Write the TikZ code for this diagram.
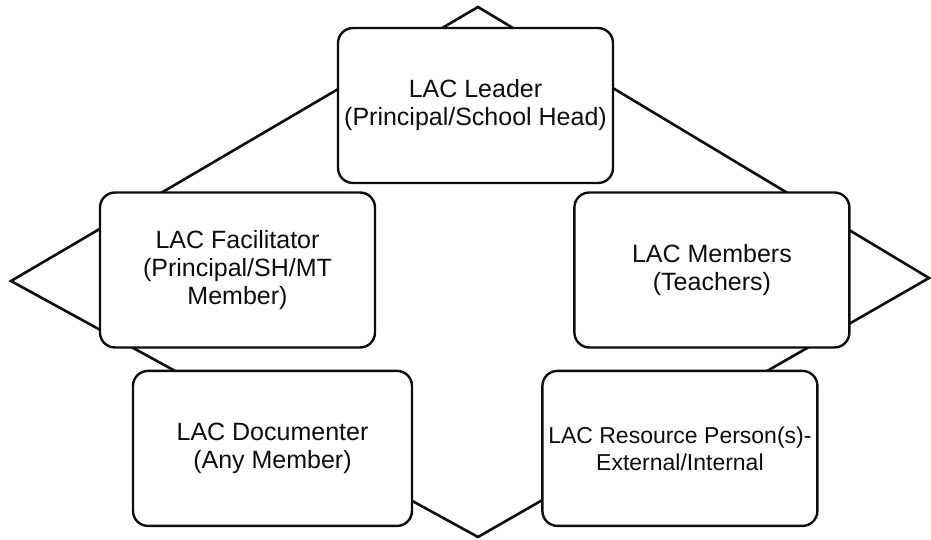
\documentclass[tikz,border=0pt]{standalone}
\usepackage{fontspec}
\setmainfont{Liberation Sans}
\usepackage{tikz}
\usetikzlibrary{positioning}
\usepackage{xcolor}
\definecolor{Ink}{gray}{0.05}
\tikzset{%
  role/.style={%
    rectangle,%
    rounded corners=15pt,%
    minimum width=275pt,%
    minimum height=155pt,%
    draw=Ink,%
    line width=2.4pt,%
    fill=white,%
    text=Ink,%
    font={\fontsize{25}{28}\selectfont},%
    align=center,%
    inner sep=0pt,%
  },
  outline/.style={%
    color=Ink,%
    line join=miter,%
    line width=2.6pt,%
  },
}

\begin{document}
\begin{tikzpicture}[x=1pt, y=1pt]
  \useasboundingbox (0,0) rectangle (931,-540);
  \coordinate (Top) at (478,-7);
  \coordinate (Right) at (929,-278);
  \coordinate (Bottom) at (478,-537);
  \coordinate (Left) at (11,-281);
  \draw[outline] (Top) -- (Right) -- (Bottom) -- (Left) -- cycle;

  \node[role] (Leader) at (475.5,-105.5) {LAC Leader\\(Principal/School Head)};
  \node[role] (Facilitator) at (237.5,-270) {LAC Facilitator\\(Principal/SH/MT\\Member)};
  \node[role, right = 197 of Facilitator] (Members) {LAC Members\\(Teachers)};
  \node[role, minimum width=279pt, below = 21 of Facilitator, xshift=35pt] (Documenter) {LAC Documenter\\(Any Member)};
  \node[role, right = 128 of Documenter, font={\fontsize{23}{27}\selectfont}] (Resource) {LAC Resource Person(s)-\\External/Internal};

\end{tikzpicture}
\end{document}
